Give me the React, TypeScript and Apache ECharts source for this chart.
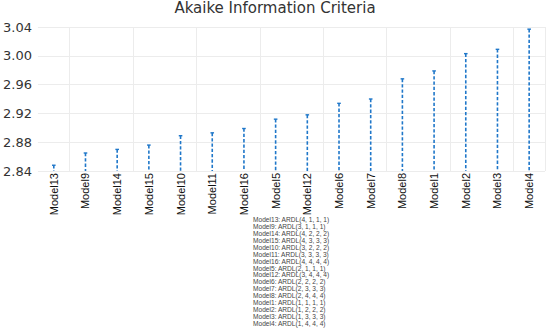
import React, { useEffect, useRef } from "react";
import * as echarts from "echarts";

const categories = [
  "Model13", "Model9", "Model14", "Model15", "Model10", "Model11", "Model16", "Model5",
  "Model12", "Model6", "Model7", "Model8", "Model1", "Model2", "Model3", "Model4",
];
const aicValues = [
  2.848, 2.865, 2.870, 2.876, 2.889, 2.893, 2.899, 2.912,
  2.918, 2.934, 2.940, 2.968, 2.979, 3.003, 3.009, 3.037,
];
const specs = [
  "ARDL(4, 1, 1, 1)", "ARDL(3, 1, 1, 1)", "ARDL(4, 2, 2, 2)", "ARDL(4, 3, 3, 3)",
  "ARDL(3, 2, 2, 2)", "ARDL(3, 3, 3, 3)", "ARDL(4, 4, 4, 4)", "ARDL(2, 1, 1, 1)",
  "ARDL(3, 4, 4, 4)", "ARDL(2, 2, 2, 2)", "ARDL(2, 3, 3, 3)", "ARDL(2, 4, 4, 4)",
  "ARDL(1, 1, 1, 1)", "ARDL(1, 2, 2, 2)", "ARDL(1, 3, 3, 3)", "ARDL(1, 4, 4, 4)",
];
const yMin = 2.84;
const yMax = 3.04;
const yStep = 0.04;

const STEM = "#1f77c9";

export default function App() {
  const ref = useRef<HTMLDivElement>(null);
  useEffect(() => {
    if (!ref.current) return;
    const chart = echarts.init(ref.current, null, { renderer: "svg" });
    const legendText = categories.map((c, i) => `${c}: ${specs[i]}`).join("\n");
    chart.setOption({
      animation: false,
      backgroundColor: "#ffffff",
      title: {
        text: "Akaike Information Criteria",
        left: "center",
        top: 0,
        padding: 0,
        textStyle: { fontFamily: "DejaVu Sans", fontSize: 15, fontWeight: "normal", color: "#333" },
      },
      grid: { left: 37, right: 5, top: 27, bottom: 157, containLabel: false },
      xAxis: {
        type: "category",
        data: categories,
        boundaryGap: true,
        axisLine: { show: false },
        axisTick: { show: false },
        axisLabel: {
          rotate: 90,
          interval: 0,
          margin: 2,
          fontFamily: "Liberation Sans Narrow, Liberation Sans",
          fontSize: 11,
          color: "#111",
        },
        splitLine: {
          show: true,
          interval: (idx: number) => idx % 2 === 1,
          lineStyle: { color: "#ececec", width: 1 },
        },
      },
      yAxis: {
        type: "value",
        min: yMin,
        max: yMax,
        interval: yStep,
        axisLine: { show: false },
        axisTick: { show: false },
        axisLabel: {
          margin: 6,
          fontFamily: "DejaVu Sans",
          fontSize: 13,
          color: "#333",
          formatter: (v: number) => v.toFixed(2),
        },
        splitLine: { show: true, lineStyle: { color: "#ececec", width: 1 } },
      },
      graphic: [
        {
          type: "text",
          left: 253,
          top: 216,
          style: {
            text: legendText,
            fontFamily: "Liberation Sans",
            fontSize: 6.6,
            lineHeight: 6.93,
            fill: "#444",
          },
        },
      ],
      series: [
        {
          type: "custom",
          data: aicValues.map((v, i) => [i, v]),
          encode: { x: 0, y: 1 },
          renderItem: (params: any, api: any) => {
            const idx = api.value(0);
            const top = api.coord([idx, api.value(1)]);
            const base = api.coord([idx, yMin]);
            return {
              type: "group",
              children: [
                {
                  type: "line",
                  shape: { x1: top[0], y1: top[1], x2: base[0], y2: base[1] },
                  style: { stroke: STEM, lineWidth: 1.6, lineDash: [3.3, 2] },
                },
                {
                  type: "line",
                  shape: { x1: top[0] - 1.8, y1: top[1], x2: top[0] + 1.8, y2: top[1] },
                  style: { stroke: STEM, lineWidth: 1.4 },
                },
              ],
            };
          },
        },
      ],
    });
    return () => chart.dispose();
  }, []);
  return (
    <div
      ref={ref}
      style={{ position: "fixed", left: 0, top: 0, width: 550, height: 328 }}
    />
  );
}
